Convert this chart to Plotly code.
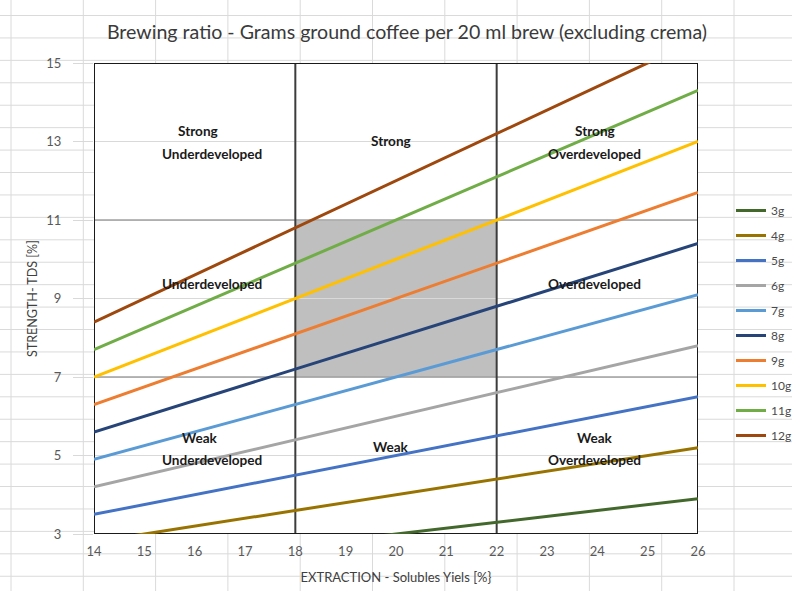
import plotly.graph_objects as go

# Extraction yield axis (%)
extraction = [14, 15, 16, 17, 18, 19, 20, 21, 22, 23, 24, 25, 26]

# Strength (TDS %) for each dose, one value per extraction step
tds_3g = [2.10, 2.25, 2.40, 2.55, 2.70, 2.85, 3.00, 3.15, 3.30, 3.45, 3.60, 3.75, 3.90]
tds_4g = [2.80, 3.00, 3.20, 3.40, 3.60, 3.80, 4.00, 4.20, 4.40, 4.60, 4.80, 5.00, 5.20]
tds_5g = [3.50, 3.75, 4.00, 4.25, 4.50, 4.75, 5.00, 5.25, 5.50, 5.75, 6.00, 6.25, 6.50]
tds_6g = [4.20, 4.50, 4.80, 5.10, 5.40, 5.70, 6.00, 6.30, 6.60, 6.90, 7.20, 7.50, 7.80]
tds_7g = [4.90, 5.25, 5.60, 5.95, 6.30, 6.65, 7.00, 7.35, 7.70, 8.05, 8.40, 8.75, 9.10]
tds_8g = [5.60, 6.00, 6.40, 6.80, 7.20, 7.60, 8.00, 8.40, 8.80, 9.20, 9.60, 10.00, 10.40]
tds_9g = [6.30, 6.75, 7.20, 7.65, 8.10, 8.55, 9.00, 9.45, 9.90, 10.35, 10.80, 11.25, 11.70]
tds_10g = [7.00, 7.50, 8.00, 8.50, 9.00, 9.50, 10.00, 10.50, 11.00, 11.50, 12.00, 12.50, 13.00]
tds_11g = [7.70, 8.25, 8.80, 9.35, 9.90, 10.45, 11.00, 11.55, 12.10, 12.65, 13.20, 13.75, 14.30]
tds_12g = [8.40, 9.00, 9.60, 10.20, 10.80, 11.40, 12.00, 12.60, 13.20, 13.80, 14.40, 15.00, 15.60]

dose_names = ["3g", "4g", "5g", "6g", "7g", "8g", "9g", "10g", "11g", "12g"]
dose_series = [tds_3g, tds_4g, tds_5g, tds_6g, tds_7g, tds_8g, tds_9g, tds_10g, tds_11g, tds_12g]
dose_colors = ["#43682B", "#997300", "#4472C4", "#A5A5A5", "#5B9BD5",
               "#264478", "#ED7D31", "#FFC000", "#70AD47", "#9E480E"]

# Zone boundaries
x_min, x_max = 14, 26
y_min, y_max = 3, 15
ideal_x = (18, 22)
ideal_y = (7, 11)

y_ticks = [3, 5, 7, 9, 11, 13, 15]

W, H = 792, 591
ML, MR, MT, MB = 94, 94, 63, 57
FONT = "Lato, 'Liberation Sans', sans-serif"

fig = go.Figure()
for name, vals, col in zip(dose_names, dose_series, dose_colors):
    fig.add_trace(go.Scatter(
        x=extraction, y=vals, mode="lines", name=name, legendgroup=name,
        line=dict(color=col, width=3),
    ))

shapes = []

# worksheet cell grid behind the chart
pw, ph = W - ML - MR, H - MT - MB
def px_to_paper_x(px):
    return (px - ML) / pw
def px_to_paper_y(py):
    return (H - MB - py) / ph

sheet_cols = [11 + 72.3 * k for k in range(11)]
sheet_rows = [15.5 + 22.43 * k for k in range(26)]
for cx in sheet_cols:
    shapes.append(dict(type="line", xref="paper", yref="paper", layer="below",
                       x0=px_to_paper_x(cx), x1=px_to_paper_x(cx),
                       y0=px_to_paper_y(0), y1=px_to_paper_y(H),
                       line=dict(color="#dadada", width=1)))
for ry in sheet_rows:
    shapes.append(dict(type="line", xref="paper", yref="paper", layer="below",
                       x0=px_to_paper_x(0), x1=px_to_paper_x(W),
                       y0=px_to_paper_y(ry), y1=px_to_paper_y(ry),
                       line=dict(color="#dadada", width=1)))

# white plot area and the shaded ideal zone
shapes.append(dict(type="rect", xref="x", yref="y", layer="below",
                   x0=x_min, x1=x_max, y0=y_min, y1=y_max,
                   fillcolor="white", line=dict(width=0)))
shapes.append(dict(type="rect", xref="x", yref="y", layer="below",
                   x0=ideal_x[0], x1=ideal_x[1], y0=ideal_y[0], y1=ideal_y[1],
                   fillcolor="#bfbfbf", line=dict(width=0)))

# zone dividers
for yv in ideal_y:
    shapes.append(dict(type="line", xref="x", yref="y", layer="between",
                       x0=x_min, x1=x_max, y0=yv, y1=yv,
                       line=dict(color="#a0a0a0", width=1.5)))
for xv in ideal_x:
    shapes.append(dict(type="line", xref="x", yref="y", layer="between",
                       x0=xv, x1=xv, y0=y_min, y1=y_max,
                       line=dict(color="#3c3c3c", width=2)))
shapes.append(dict(type="rect", xref="x", yref="y", layer="between",
                   x0=x_min, x1=x_max, y0=y_min, y1=y_max,
                   line=dict(color="#1a1a1a", width=2)))

# zone labels
zone_labels = [
    ("Strong", 16.07, 13.27), ("Underdeveloped", 16.35, 12.68),
    ("Strong", 19.9, 13.01),
    ("Strong", 23.95, 13.27), ("Overdeveloped", 23.95, 12.68),
    ("Underdeveloped", 16.35, 9.37),
    ("Overdeveloped", 23.95, 9.37),
    ("Weak", 16.1, 5.45), ("Underdeveloped", 16.35, 4.89),
    ("Weak", 19.9, 5.22),
    ("Weak", 23.95, 5.45), ("Overdeveloped", 23.95, 4.89),
]
annotations = [dict(text="<b>%s</b>" % t, x=xv, y=yv, xref="x", yref="y",
                    showarrow=False, font=dict(family=FONT, size=13.6, color="#1a1a1a"))
               for t, xv, yv in zone_labels]

fig.update_layout(
    width=W, height=H,
    margin=dict(l=ML, r=MR, t=MT, b=MB, autoexpand=False),
    paper_bgcolor="white",
    plot_bgcolor="rgba(0,0,0,0)",
    font=dict(family=FONT, color="#595959"),
    title=dict(text="Brewing ratio - Grams ground coffee per 20 ml brew (excluding crema)",
               x=407 / W, xanchor="center", y=1 - 32 / H, yanchor="middle",
               yref="container", font=dict(family=FONT, size=19.6, color="#3a3a3a")),
    xaxis=dict(range=[x_min, x_max], tickmode="array", tickvals=extraction,
               showgrid=False, zeroline=False, showline=False, ticks="",
               ticklabelstandoff=8, tickfont=dict(size=13, color="#595959"),
               title=dict(text="EXTRACTION - Solubles Yiels [%}", standoff=14,
                          font=dict(size=13, color="#404040"))),
    yaxis=dict(range=[y_min, y_max], tickmode="array", tickvals=y_ticks,
               showgrid=True, gridcolor="#d9d9d9", gridwidth=1,
               zeroline=False, showline=False,
               ticks="outside", ticklen=20, tickcolor="#d9d9d9", tickwidth=1,
               ticklabelstandoff=9, tickfont=dict(size=13, color="#595959"),
               title=dict(text="STRENGTH- TDS [%]", standoff=5,
                          font=dict(size=12.5, color="#404040"))),
    legend=dict(x=px_to_paper_x(731), xanchor="left", y=px_to_paper_y(196),
                yanchor="top", bgcolor="rgba(0,0,0,0)", tracegroupgap=6,
                font=dict(family=FONT, size=12, color="#4a4a4a")),
    shapes=shapes,
    annotations=annotations,
)

fig.write_html("out.html")
